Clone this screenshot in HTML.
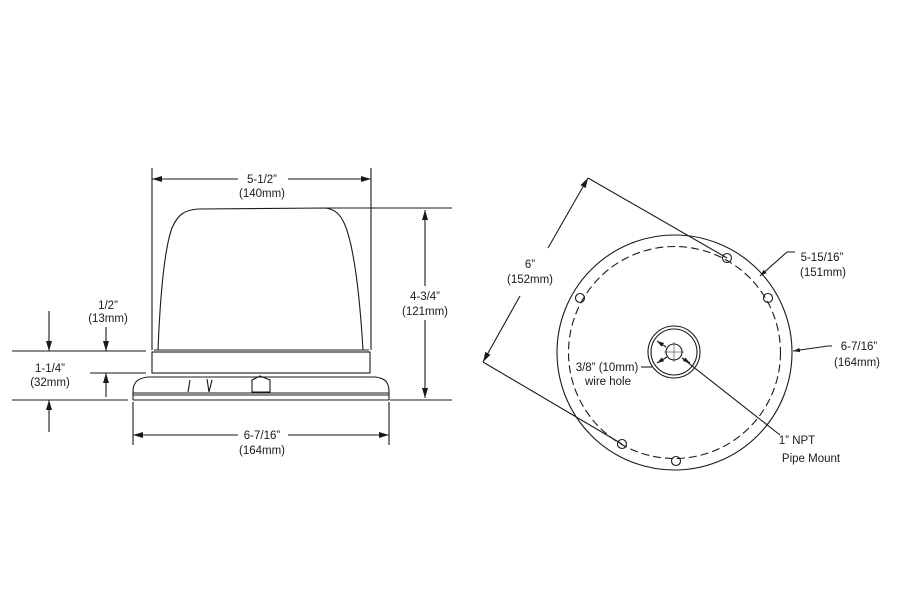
<!DOCTYPE html>
<html><head><meta charset="utf-8"><style>
html,body{margin:0;padding:0;background:#fff;}
svg text{font-family:"Liberation Sans",sans-serif;font-size:11.5px;fill:#1a1a1a;text-anchor:middle;}
</style></head><body>
<svg width="900" height="600" viewBox="0 0 900 600" xmlns="http://www.w3.org/2000/svg">
<defs>
<marker id="a" viewBox="0 0 10 6" refX="10" refY="3" markerWidth="10" markerHeight="6" orient="auto-start-reverse" markerUnits="userSpaceOnUse"><path d="M0,0 L10,3 L0,6 z" fill="#1a1a1a"/></marker>
<marker id="s" viewBox="0 0 8 5" refX="8" refY="2.5" markerWidth="7" markerHeight="5" orient="auto-start-reverse" markerUnits="userSpaceOnUse"><path d="M0,0 L8,2.5 L0,5 z" fill="#1a1a1a"/></marker>
</defs>
<g stroke="#1a1a1a" fill="none" stroke-width="1.1">
<line x1="152" y1="168" x2="152" y2="350"/>
<line x1="371" y1="168" x2="371" y2="350"/>
<line x1="152" y1="179" x2="238" y2="179" marker-start="url(#a)"/>
<line x1="288" y1="179" x2="371" y2="179" marker-end="url(#a)"/>
<path d="M158,350 C160,300 164,250 172,228 C178,214 185,210 198,209 L325,208 C334,209 340,213 345,225 C355,250 360,300 363,350"/>
<line x1="154" y1="350" x2="369" y2="350"/>
<line x1="152" y1="352" x2="370" y2="352"/>
<rect x="152" y="352" width="218" height="21"/>
<path d="M133,400 L133,392 C133,382 138,378 148,377 L375,377 C385,378 389,382 389,392 L389,400"/>
<line x1="133" y1="393" x2="389" y2="393"/>
<line x1="133" y1="395" x2="389" y2="395"/>
<line x1="133" y1="400" x2="389" y2="400"/>
<path d="M190,380 L188,392 M207,379 L209,392 L212,380"/>
<path d="M252,392 L252,380 L260,376 L270,380 L270,392 Z"/>
<line x1="325" y1="208" x2="452" y2="208"/>
<line x1="390" y1="400" x2="452" y2="400"/>
<line x1="425" y1="210" x2="425" y2="286" marker-start="url(#a)"/>
<line x1="425" y1="320" x2="425" y2="398" marker-end="url(#a)"/>
<line x1="133" y1="402" x2="133" y2="445"/>
<line x1="389" y1="402" x2="389" y2="445"/>
<line x1="133" y1="435" x2="238" y2="435" marker-start="url(#a)"/>
<line x1="288" y1="435" x2="389" y2="435" marker-end="url(#a)"/>
<line x1="12" y1="351" x2="146" y2="351"/>
<line x1="90" y1="373" x2="146" y2="373"/>
<line x1="12" y1="400" x2="128" y2="400"/>
<line x1="49" y1="311" x2="49" y2="351" marker-end="url(#a)"/>
<line x1="49" y1="432" x2="49" y2="400" marker-end="url(#a)"/>
<line x1="106" y1="327" x2="106" y2="351" marker-end="url(#a)"/>
<line x1="106" y1="397" x2="106" y2="373" marker-end="url(#a)"/>
<circle cx="674.5" cy="352.5" r="117.5"/>
<circle cx="674.5" cy="352.5" r="106" stroke-dasharray="8,4"/>
<circle cx="674" cy="352" r="26"/>
<circle cx="674" cy="352" r="23"/>
<circle cx="674" cy="352" r="8"/>
<line x1="664" y1="352" x2="684" y2="352" stroke-width="0.5"/>
<line x1="674" y1="342" x2="674" y2="362" stroke-width="0.5"/>
<circle cx="727" cy="258" r="4.5"/>
<circle cx="768" cy="298" r="4.5"/>
<circle cx="580" cy="298" r="4.5"/>
<circle cx="622" cy="444" r="4.5"/>
<circle cx="676" cy="461" r="4.5"/>
<line x1="588" y1="178" x2="727" y2="258"/>
<line x1="483" y1="362" x2="622" y2="444"/>
<line x1="588" y1="178" x2="548" y2="248" marker-start="url(#a)"/>
<line x1="520" y1="296" x2="483" y2="362" marker-end="url(#a)"/>
<polyline points="760,276 787,252 795,252" marker-start="url(#s)"/>
<polyline points="793,351 828,346 832,346" marker-start="url(#s)"/>
<line x1="657" y1="341" x2="666" y2="347" marker-start="url(#s)"/>
<line x1="657" y1="363" x2="667" y2="357" marker-start="url(#s)"/>
<line x1="690" y1="363" x2="682" y2="358" marker-start="url(#s)"/>
<line x1="682" y1="358" x2="780" y2="435"/>
<line x1="641" y1="367" x2="652" y2="367"/>
</g>
<text x="262" y="183">5-1/2”</text>
<text x="262" y="197">(140mm)</text>
<text x="425" y="300">4-3/4”</text>
<text x="425" y="315">(121mm)</text>
<text x="262" y="439">6-7/16”</text>
<text x="262" y="454">(164mm)</text>
<text x="108" y="309">1/2”</text>
<text x="108" y="322">(13mm)</text>
<text x="50" y="372">1-1/4”</text>
<text x="50" y="386">(32mm)</text>
<text x="530" y="268">6”</text>
<text x="530" y="283">(152mm)</text>
<text x="822" y="261">5-15/16”</text>
<text x="823" y="276">(151mm)</text>
<text x="859" y="350">6-7/16”</text>
<text x="857" y="366">(164mm)</text>
<text x="607" y="371">3/8” (10mm)</text>
<text x="608" y="385">wire hole</text>
<text x="797" y="444">1” NPT</text>
<text x="811" y="462">Pipe Mount</text>
</svg>
</body></html>
